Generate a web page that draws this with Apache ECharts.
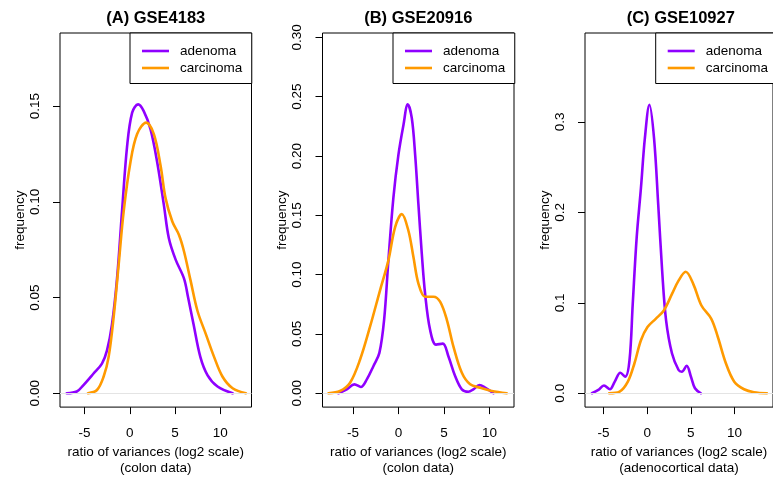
<!DOCTYPE html>
<html>
<head>
<meta charset="utf-8">
<script src="https://cdn.jsdelivr.net/npm/echarts@6/dist/echarts.min.js"></script>
<style>
html,body{margin:0;padding:0;background:#fff;}
#chart{width:773px;height:481px;}
</style>
</head>
<body>
<div id="chart"></div>
<script>
// ---- data ----
const panelTitles = ['(A) GSE4183', '(B) GSE20916', '(C) GSE10927'];
const dataNotes = ['(colon data)', '(colon data)', '(adenocortical data)'];
const seriesNames = ['adenoma', 'carcinoma'];
const xTickValues = [-5, 0, 5, 10];
const yTicksA = [0, 0.05, 0.10, 0.15];
const yTicksB = [0, 0.05, 0.10, 0.15, 0.20, 0.25, 0.30];
const yTicksC = [0, 0.1, 0.2, 0.3];

const adenomaA = [[-6.97,0],[-5.86,0.0009],[-5.12,0.0043],[-4.01,0.0103],[-3.08,0.0155],[-2.52,0.0224],[-1.97,0.036],[-1.41,0.060],[-0.86,0.095],[-0.30,0.129],[0.26,0.1466],[0.92,0.1509],[1.54,0.1474],[2.29,0.138],[3.03,0.1207],[3.77,0.0983],[4.32,0.081],[5.07,0.0698],[5.99,0.060],[6.45,0.050],[7.05,0.036],[7.8,0.019],[8.59,0.0095],[9.7,0.0035],[11.37,0]];
const carcinomaA = [[-4.63,0],[-3.63,0.0017],[-2.9,0.0086],[-2.34,0.019],[-1.79,0.0397],[-1.23,0.0673],[-0.68,0.0949],[0.07,0.1207],[0.81,0.1354],[1.81,0.1414],[2.66,0.1354],[3.4,0.119],[3.96,0.1018],[4.7,0.0897],[5.43,0.0828],[5.99,0.0742],[6.73,0.0587],[7.48,0.0431],[8.4,0.031],[9.32,0.019],[10.26,0.0086],[11.37,0.0026],[12.84,0]];
const adenomaB = [[-6.59,0],[-5.67,0.0033],[-4.83,0.0075],[-4.13,0.0053],[-3.47,0.0117],[-2.75,0.0228],[-2.09,0.034],[-1.57,0.0619],[-1.1,0.112],[-0.55,0.165],[0,0.201],[0.55,0.226],[1.03,0.2436],[1.47,0.232],[1.84,0.201],[2.2,0.159],[2.57,0.1176],[2.93,0.0841],[3.48,0.0535],[4.14,0.041],[4.88,0.0418],[5.49,0.0312],[6.23,0.0145],[6.97,0.0033],[7.69,0.0013],[8.24,0.0033],[8.9,0.0069],[9.53,0.0047],[10.44,0]];
const carcinomaB = [[-7.69,0],[-6.41,0.0019],[-5.31,0.0089],[-4.21,0.0284],[-3.11,0.0563],[-2.01,0.087],[-1.1,0.112],[-0.36,0.14],[0.37,0.151],[1.1,0.137],[1.65,0.1148],[2.2,0.0925],[2.93,0.0814],[3.85,0.0814],[4.58,0.0772],[5.32,0.0619],[6.04,0.0395],[6.97,0.0172],[7.88,0.0075],[8.98,0.0047],[10.26,0.0019],[11.91,0]];
const adenomaC = [[-6.33,0],[-5.59,0.0037],[-4.95,0.0085],[-4.27,0.0044],[-3.71,0.0128],[-3.07,0.0227],[-2.51,0.0183],[-2.02,0.0366],[-1.65,0.0988],[-1.2,0.172],[-0.71,0.227],[-0.26,0.282],[0.26,0.319],[0.79,0.282],[1.27,0.2086],[1.72,0.1354],[2.17,0.0806],[2.85,0.0439],[3.6,0.0257],[3.97,0.0238],[4.53,0.0304],[5.02,0.0183],[5.48,0.0055],[6.15,0]];
const carcinomaC = [[-4.35,0],[-3.15,0.0018],[-2.21,0.0128],[-1.46,0.0329],[-0.71,0.0586],[0.04,0.0732],[0.98,0.0823],[1.91,0.0915],[2.85,0.1098],[3.6,0.1245],[4.42,0.1343],[5.29,0.1207],[6.22,0.097],[7.35,0.0823],[8.1,0.0622],[9.03,0.0329],[9.98,0.0128],[11.1,0.0044],[12.23,0.0011],[13.72,0]];

// ---- layout / style ----
const FONT = '"Liberation Sans", Arial, Helvetica, sans-serif';
const colors = ['#8F00FF', '#FF9A00'];
const panels = [
  { left: 60,    xMin: -7.72, xMax: 13.46, yMin: -0.00724, yMax: 0.1882, yTicks: yTicksA, dec: 2, series: [adenomaA, carcinomaA] },
  { left: 322.5, xMin: -8.34, xMax: 12.70, yMin: -0.01168, yMax: 0.3037, yTicks: yTicksB, dec: 2, series: [adenomaB, carcinomaB] },
  { left: 585,   xMin: -7.12, xMax: 14.42, yMin: -0.01532, yMax: 0.3983, yTicks: yTicksC, dec: 1, series: [adenomaC, carcinomaC] }
];
const legendLeft = [130, 393, 655.7];
const gridTop = 33, gridH = 378, gridW = 191.5;

const option = {
  backgroundColor: '#fff',
  animation: false,
  title: [], grid: [], xAxis: [], yAxis: [], series: [], legend: []
};

panels.forEach((p, i) => {
  option.title.push({
    text: panelTitles[i], left: p.left + gridW / 2, top: 10, textAlign: 'center', padding: 0,
    textStyle: { fontFamily: FONT, fontSize: 16.5, fontWeight: 'bold', color: '#000' }
  });
  option.grid.push({
    left: p.left, top: gridTop, width: gridW, height: gridH,
    show: true, borderColor: '#000', borderWidth: 1, backgroundColor: 'transparent', containLabel: false
  });
  option.xAxis.push({
    type: 'value', gridIndex: i, min: p.xMin, max: p.xMax, position: 'bottom',
    axisLine: { show: false, onZero: false },
    splitLine: { show: false },
    axisTick: { show: true, customValues: xTickValues, length: 7, lineStyle: { color: '#000', width: 1 } },
    axisLabel: { customValues: xTickValues, color: '#000', fontFamily: FONT, fontSize: 13.5, margin: 19 },
    name: 'ratio of variances (log2 scale)\n' + dataNotes[i],
    nameLocation: 'middle', nameGap: 36,
    nameTextStyle: { fontFamily: FONT, fontSize: 13.5, color: '#000', lineHeight: 15.5 }
  });
  option.yAxis.push({
    type: 'value', gridIndex: i, min: p.yMin, max: p.yMax, position: 'left',
    axisLine: { show: false, onZero: false },
    splitLine: { show: false },
    axisTick: { show: true, customValues: p.yTicks, length: 7, lineStyle: { color: '#000', width: 1 } },
    axisLabel: { customValues: p.yTicks, rotate: 90, color: '#000', fontFamily: FONT, fontSize: 13.5, margin: 18,
      formatter: v => Number(v).toFixed(p.dec) },
    name: 'frequency', nameLocation: 'middle', nameRotate: 90, nameGap: 29,
    nameTextStyle: { fontFamily: FONT, fontSize: 13.5, color: '#000' }
  });
  p.series.forEach((d, k) => {
    const s = {
      name: seriesNames[k], type: 'line', xAxisIndex: i, yAxisIndex: i,
      data: d, showSymbol: false, smooth: 0.35, clip: true,
      lineStyle: { color: colors[k], width: 2.6, cap: 'round', join: 'round' },
      itemStyle: { color: colors[k] }, z: 3 + k
    };
    if (k === 0) {
      s.markLine = {
        silent: true, symbol: 'none', label: { show: false },
        lineStyle: { color: '#e4e4e4', width: 1, type: 'solid' },
        data: [{ yAxis: 0 }]
      };
    }
    option.series.push(s);
  });
  option.legend.push({
    data: seriesNames, orient: 'vertical',
    left: legendLeft[i], top: gridTop,
    icon: 'rect', itemWidth: 27, itemHeight: 2.6, itemGap: 3,
    padding: [11, 9.5, 8.5, 12],
    borderColor: '#000', borderWidth: 1, backgroundColor: '#fff',
    textStyle: { fontFamily: FONT, fontSize: 13.5, color: '#000', padding: [0, 0, 0, 6] },
    selectedMode: false
  });
});

const chart = echarts.init(document.getElementById('chart'), null, { renderer: 'canvas' });
chart.setOption(option);
</script>
</body>
</html>
